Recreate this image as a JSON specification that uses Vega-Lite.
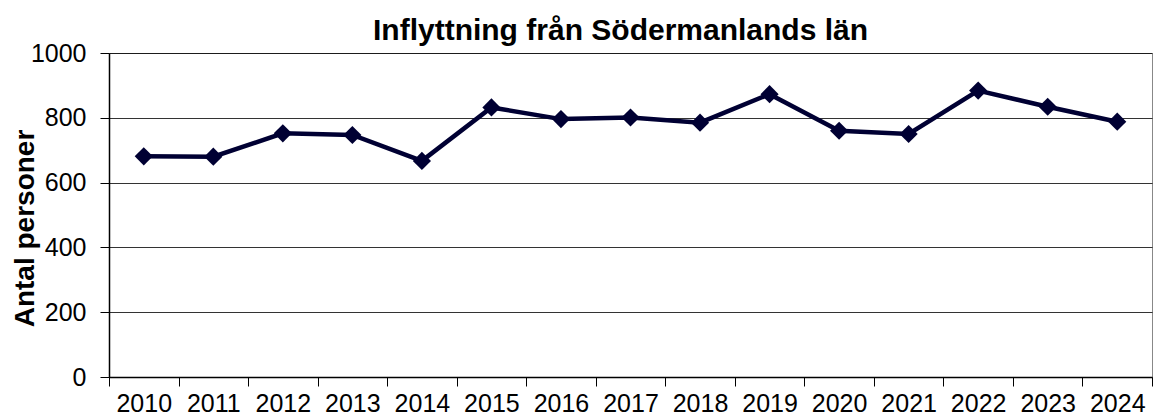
{
  "$schema": "https://vega.github.io/schema/vega-lite/v6.json",
  "autosize": {"type": "none"},
  "width": 1043,
  "height": 324,
  "padding": {"left": 109, "top": 53, "right": 1, "bottom": 41},
  "background": "white",
  "config": {
    "font": "Liberation Sans",
    "view": {"stroke": "#888888", "strokeWidth": 1}
  },
  "title": {
    "text": "Inflyttning från Södermanlands län",
    "fontSize": 30,
    "fontWeight": "bold",
    "color": "black",
    "offset": 6,
    "dy": 11,
    "dx": -10,
    "anchor": "middle"
  },
  "data": {
    "values": [
      {"year": "2010", "value": 681},
      {"year": "2011", "value": 680},
      {"year": "2012", "value": 752},
      {"year": "2013", "value": 747},
      {"year": "2014", "value": 667},
      {"year": "2015", "value": 832},
      {"year": "2016", "value": 796},
      {"year": "2017", "value": 801},
      {"year": "2018", "value": 785},
      {"year": "2019", "value": 873},
      {"year": "2020", "value": 760},
      {"year": "2021", "value": 750},
      {"year": "2022", "value": 884},
      {"year": "2023", "value": 834},
      {"year": "2024", "value": 788}
    ]
  },
  "encoding": {
    "x": {
      "field": "year",
      "type": "ordinal",
      "scale": {"type": "band", "paddingInner": 0, "paddingOuter": 0},
      "axis": {
        "title": null,
        "labelAngle": 0,
        "labelFontSize": 25,
        "labelColor": "black",
        "labelPadding": 5,
        "tickBand": "extent",
        "tickSize": 9,
        "tickColor": "black",
        "domainColor": "black",
        "domainWidth": 1.5,
        "grid": false
      }
    },
    "y": {
      "field": "value",
      "type": "quantitative",
      "scale": {"domain": [0, 1000], "nice": false},
      "axis": {
        "title": "Antal personer",
        "titleFontSize": 28,
        "titleFontWeight": "bold",
        "titleColor": "black",
        "titleAngle": 270,
        "titleAlign": "center",
        "titleBaseline": "alphabetic",
        "titleX": -76,
        "titleY": 175,
        "values": [0, 200, 400, 600, 800, 1000],
        "format": "d",
        "labelFontSize": 25,
        "labelColor": "black",
        "labelPadding": 14,
        "tickSize": 9,
        "tickColor": "black",
        "domainColor": "black",
        "domainWidth": 1.5,
        "grid": true,
        "gridColor": "black",
        "gridWidth": 1,
        "gridOpacity": 0.8
      }
    }
  },
  "layer": [
    {
      "mark": {"type": "line", "color": "#000033", "strokeWidth": 4.5}
    },
    {
      "mark": {"type": "point", "shape": "diamond", "filled": true, "color": "#000033", "size": 330, "opacity": 1}
    }
  ]
}
